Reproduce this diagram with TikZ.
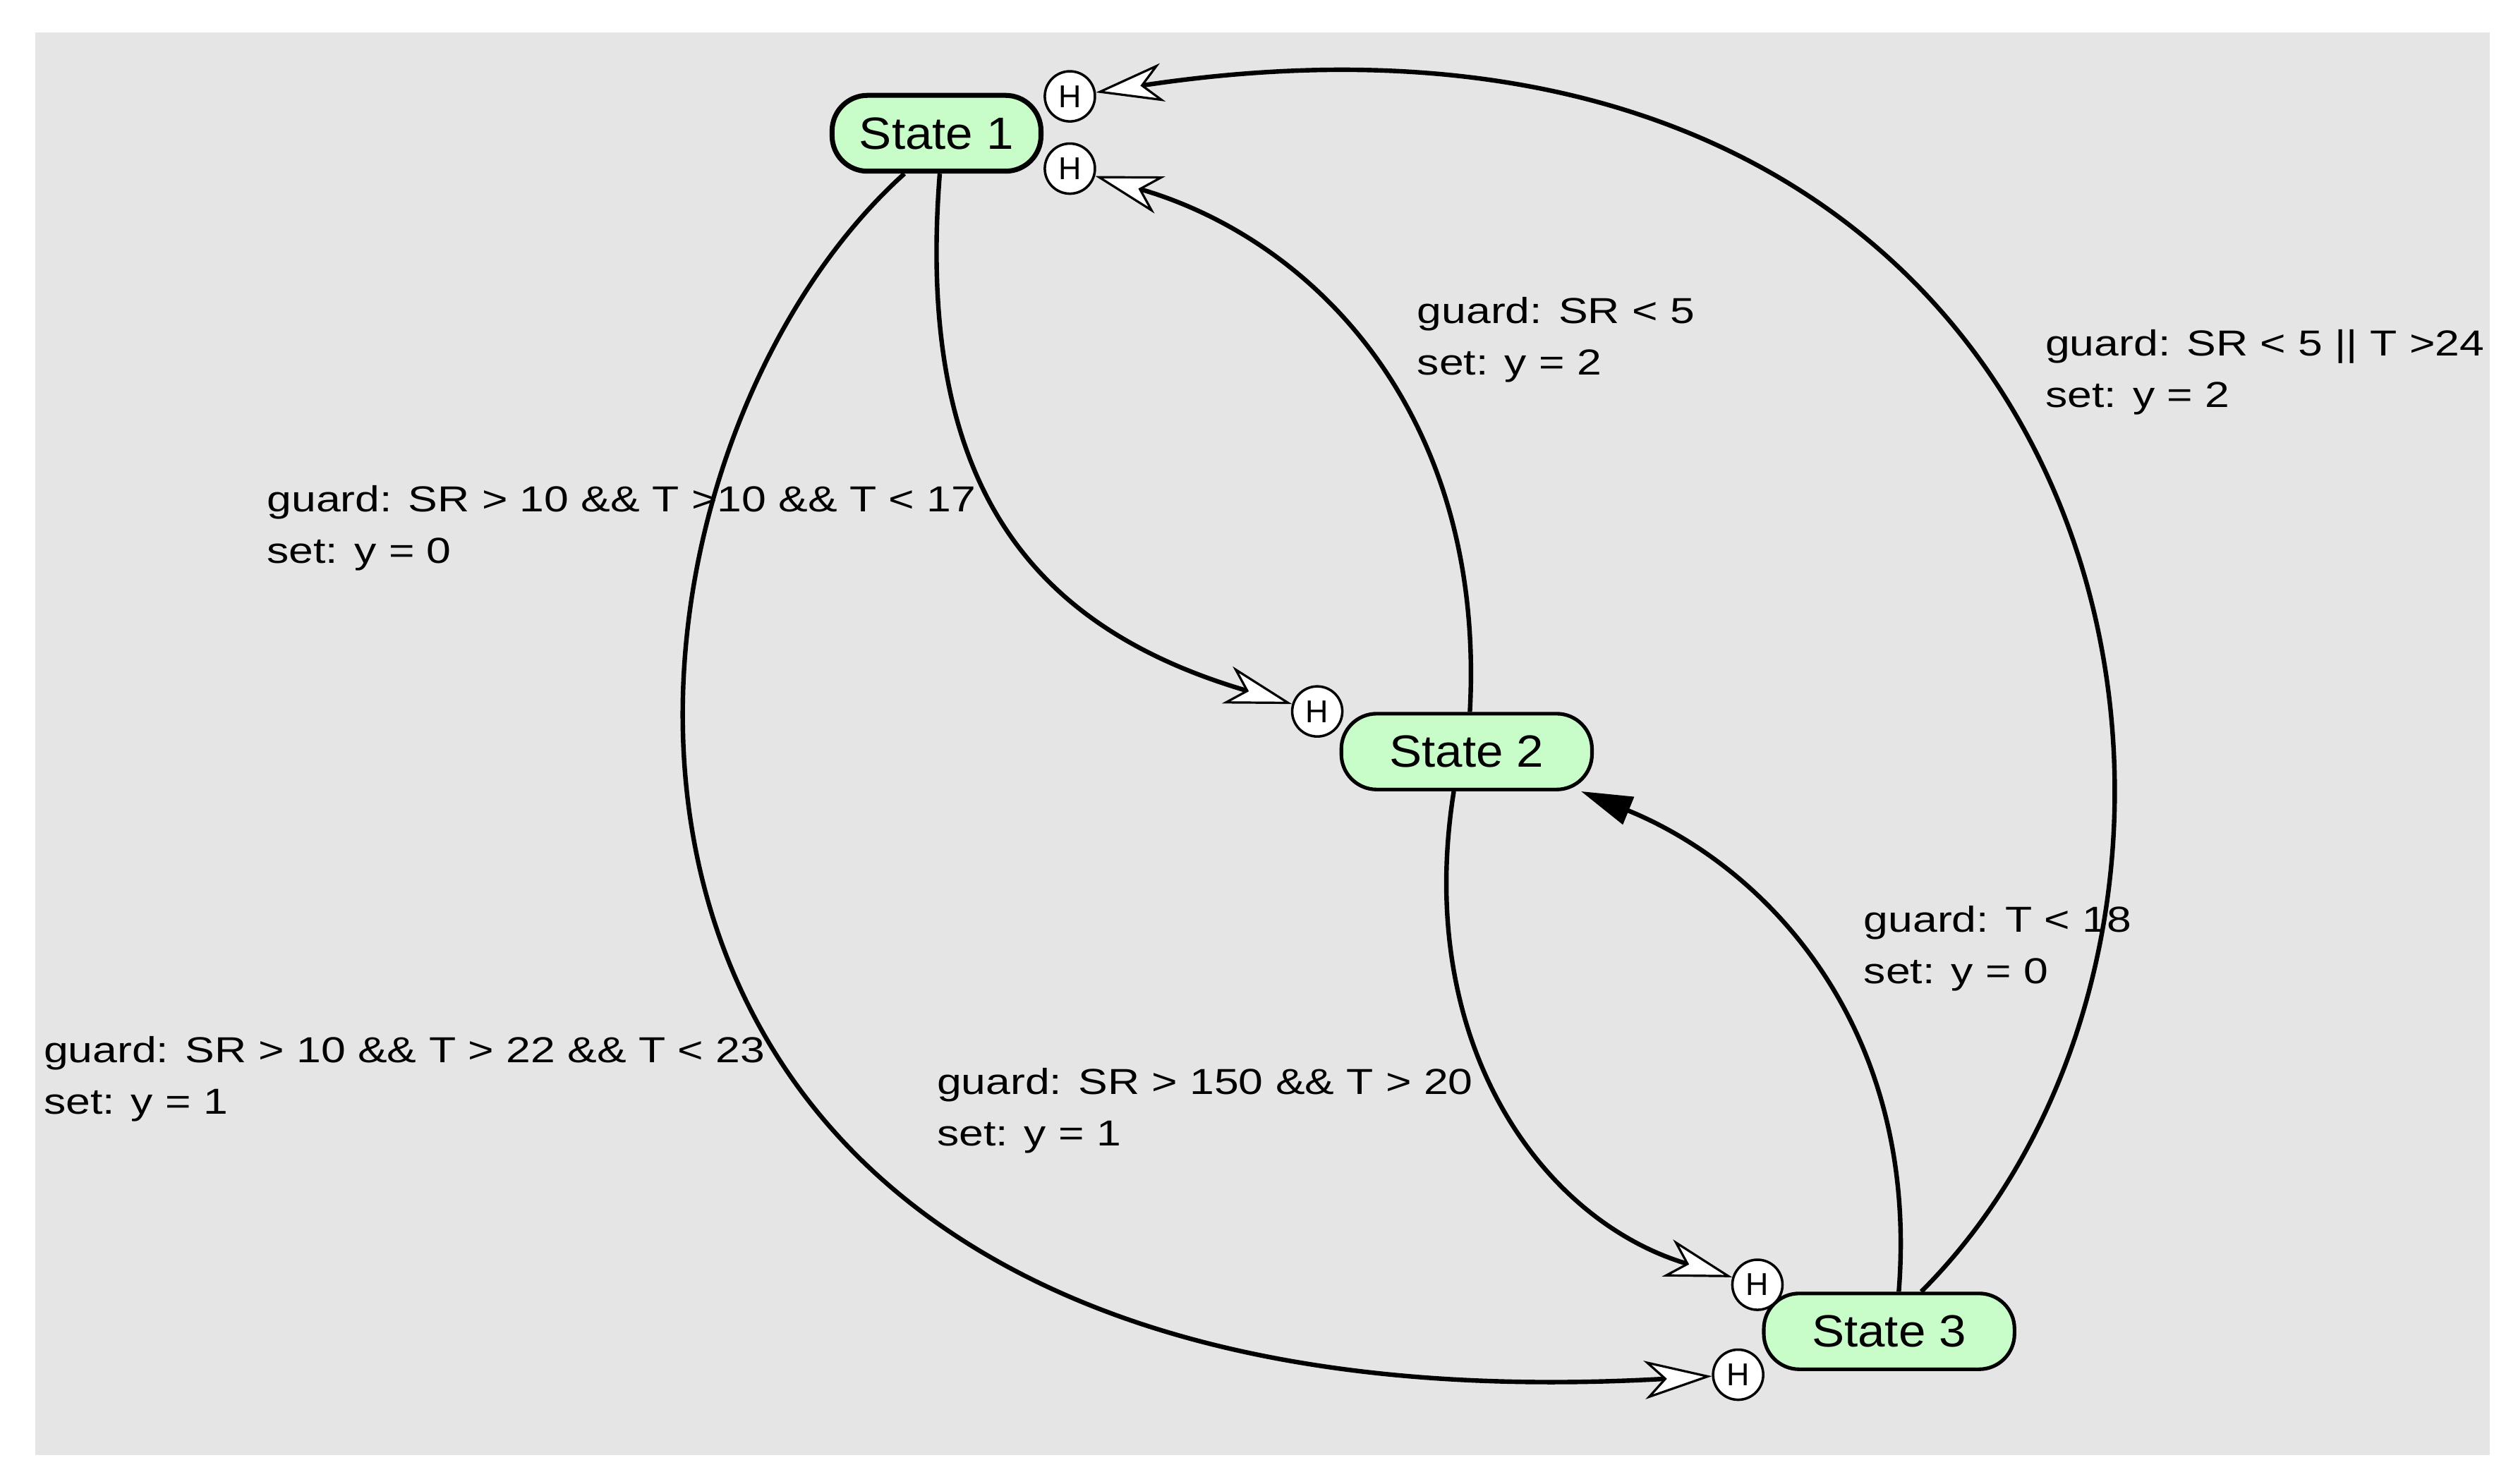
\documentclass[tikz,border=0pt]{standalone}
\usepackage{fontspec}
\setmainfont{Liberation Sans}
\newfontfamily\wide{Liberation Sans}[FakeStretch=1.22]
\newfontfamily\swide{Liberation Sans}[FakeStretch=1.08]
\usetikzlibrary{arrows.meta}
\definecolor{bg}{HTML}{E5E5E5}
\definecolor{sg}{HTML}{C8FCC8}
\begin{document}
\begin{tikzpicture}[x=0.025cm,y=-0.025cm,
  st/.style={draw,line width=1.6pt,fill=sg,rounded corners=0.55cm,minimum height=1.18cm,minimum width=3.9cm,font=\swide\fontsize{20}{22}\selectfont},
  hh/.style={draw,circle,fill=white,line width=1.1pt,inner sep=0pt,minimum size=0.78cm,font=\fontsize{14}{14}\selectfont},
  tr/.style={line width=2pt},
  oa/.style={-{Stealth[fill=white,length=1.05cm,width=0.6cm,inset=0.3cm,line width=1pt]}},
  lb/.style={anchor=north west,align=left,inner sep=0pt,font=\wide\fontsize{16}{22.7}\selectfont}]
\useasboundingbox (0,0) rectangle (1560,924);
\fill[bg] (22,20) rectangle (1550,906);
\node[st,line width=2.2pt,minimum width=3.25cm] (s1) at (583,83) {State 1};
\node[st] (s2) at (913,468) {State 2};
\node[st] (s3) at (1176,829) {State 3};
\node[hh] (h1) at (666,60) {H};
\node[hh] (h2) at (666,105) {H};
\node[hh] (h3) at (820,443) {H};
\node[hh] (h4) at (1094,800) {H};
\node[hh] (h5) at (1082,856) {H};
\draw[tr,oa] ([xshift=0.05cm]s1.south) .. controls (570,300) and (640,390) .. (h3);
\draw[tr,oa] ([xshift=-0.5cm]s1.south) .. controls (350,300) and (300,900) .. (h5);
\draw[tr,oa] ([xshift=0.05cm]s2.north) .. controls (925,260) and (820,150) .. (h2);
\draw[tr,oa] ([xshift=-0.2cm]s2.south) .. controls (880,650) and (960,760) .. (h4);
\draw[tr,-{Triangle[length=0.8cm,width=0.45cm]}] ([xshift=0.15cm]s3.north) .. controls (1195,640) and (1100,540) .. ([xshift=-0.2cm]s2.south east);
\draw[tr,oa] ([xshift=0.5cm]s3.north) .. controls (1440,560) and (1330,-40) .. (h1);
\node[lb] (l1) at (882,185) {guard: SR < 5\\set: y = 2};
\node[lb] (l2) at (1273,205) {guard: SR < 5 || T >24\\set: y = 2};
\node[lb] (l3) at (166,302) {guard: SR > 10 \&\& T >10 \&\& T < 17\\set: y = 0};
\node[lb] (l4) at (1160,564) {guard: T < 18\\set: y = 0};
\node[lb] (l5) at (27,645) {guard: SR > 10 \&\& T > 22 \&\& T < 23\\set: y = 1};
\node[lb] (l6) at (583,665) {guard: SR > 150 \&\& T > 20\\set: y = 1};
\end{tikzpicture}
\end{document}
